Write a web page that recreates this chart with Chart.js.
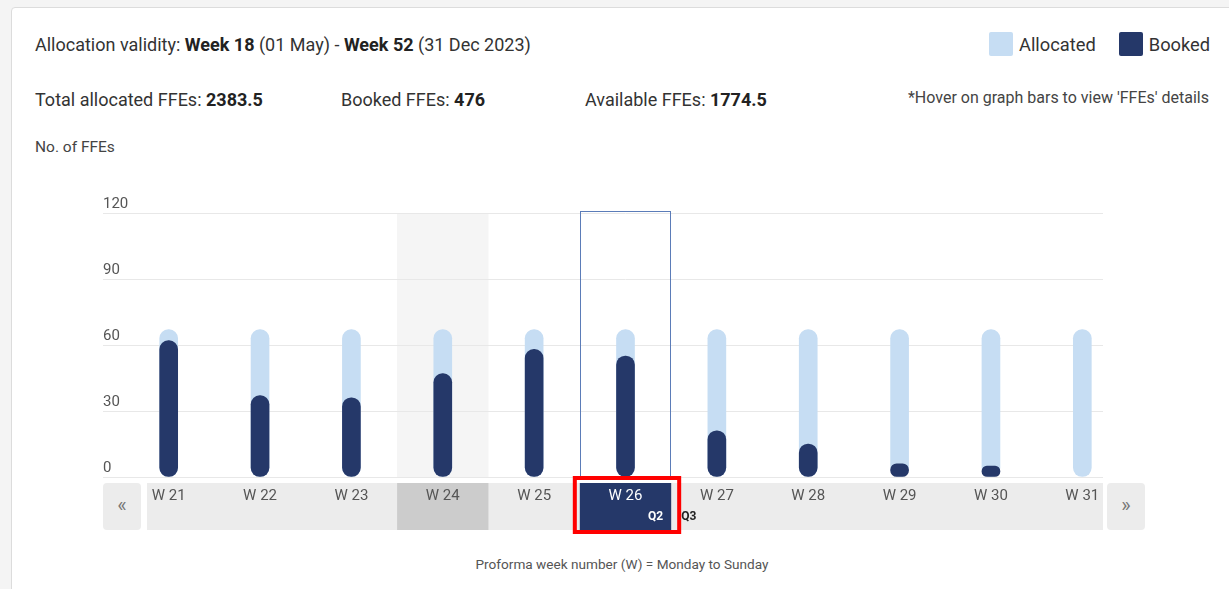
<!DOCTYPE html>
<html>
<head>
<meta charset="utf-8">
<script src="https://cdn.jsdelivr.net/npm/chart.js@4.4.0/dist/chart.umd.min.js"></script>
<style>
  html, body { margin: 0; padding: 0; }
  body { width: 1229px; height: 589px; background: #f4f4f4; font-family: Roboto, "Noto Sans", sans-serif; color: #333; position: relative; overflow: hidden; }
  .card { position: absolute; left: 11px; top: 7px; width: 1240px; height: 600px; background: #fff; border: 1px solid #dcdcdc; border-radius: 4px; }
  .txt { position: absolute; white-space: nowrap; }
  .big { font-size: 18px; }
  .small { font-size: 15.5px; color: #444; }
  b { font-weight: 700; color: #222; }
  .legend { position: absolute; top: 32px; left: 989px; font-size: 18.3px; display: flex; align-items: center; }
  .sw { width: 24px; height: 24px; border-radius: 2px; display: inline-block; margin-right: 6px; }
  .btn { position: absolute; top: 483px; width: 38px; height: 47px; background: #ececec; border-radius: 4px; color: #777; font-size: 20px; line-height: 45px; text-align: center; z-index: 2; }
  .clip { position: absolute; left: 103px; top: 190px; width: 1000px; height: 350px; overflow: hidden; }
  .inner { position: relative; width: 1025px; height: 350px; }
</style>
</head>
<body>
<div class="card"></div>

<div class="txt big" style="left:35px; top:34px;">Allocation validity: <b>Week 18</b> (01 May) - <b>Week 52</b> (31 Dec 2023)</div>
<div class="legend">
  <span class="sw" style="background:#c6ddf3"></span><span style="margin-right:23px">Allocated</span>
  <span class="sw" style="background:#253869"></span><span>Booked</span>
</div>

<div class="txt big" style="left:35px; top:89px;">Total allocated FFEs: <b>2383.5</b></div>
<div class="txt big" style="left:341px; top:89px;">Booked FFEs: <b>476</b></div>
<div class="txt big" style="left:585px; top:89px;">Available FFEs: <b>1774.5</b></div>
<div class="txt small" style="right:20px; top:88px; font-size:16px;">*Hover on graph bars to view 'FFEs' details</div>
<div class="txt small" style="left:35px; top:138px;">No. of FFEs</div>

<div class="btn" style="left:103px;">&laquo;</div>
<div class="btn" style="left:1107px;">&raquo;</div>

<div class="clip"><div class="inner"><canvas id="weekChart"></canvas></div></div>

<div class="txt" style="left:0; width:1244px; text-align:center; top:556px; font-size:13.6px; color:#555;">Proforma week number (W) = Monday to Sunday</div>

<script>
var weeks = ["W 21", "W 22", "W 23", "W 24", "W 25", "W 26", "W 27", "W 28", "W 29", "W 30", "W 31"];
var allocated = [67, 67, 67, 67, 67, 67, 67, 67, 67, 67, 67];
var booked = [62, 37, 36, 47, 58, 55, 21, 15, 6, 5, 0];
var yTicks = [0, 30, 60, 90, 120];
var hoverWeek = "W 24";
var currentWeek = "W 26";
var quarterEnd = "Q2";
var quarterNext = "Q3";

var navy = '#253869';

// strip under the bars, the grey hover column and the selected week box
var stripPlugin = {
  id: 'strip',
  beforeDraw: function (chart) {
    var c = chart.ctx, x = chart.scales.x, area = chart.chartArea;
    var w = x.width / weeks.length;
    var top = area.bottom + 6, h = 47;
    c.save();
    c.fillStyle = '#ececec';
    c.fillRect(area.left + 24, top, area.right - area.left - 24, h);
    var hi = weeks.indexOf(hoverWeek);
    var hx = x.getPixelForValue(hi) - w / 2;
    c.fillStyle = '#f5f5f5';
    c.fillRect(hx, area.top, w, area.bottom - area.top);
    c.fillStyle = '#cccccc';
    c.fillRect(hx, top, w, h);
    var ci = weeks.indexOf(currentWeek);
    var cx = x.getPixelForValue(ci) - w / 2;
    c.fillStyle = navy;
    c.fillRect(cx, top, w, h);
    c.restore();
  },
  afterDraw: function (chart) {
    var c = chart.ctx, x = chart.scales.x, area = chart.chartArea;
    var w = x.width / weeks.length;
    var ci = weeks.indexOf(currentWeek);
    var cx = x.getPixelForValue(ci) - w / 2;
    c.save();
    c.strokeStyle = '#5b7cb8';
    c.lineWidth = 1;
    c.strokeRect(Math.round(cx) + 0.5, area.top - 1.5, Math.round(w) - 1, area.bottom - area.top + 1.5);
    c.font = 'bold 12px Roboto, sans-serif';
    c.textBaseline = 'middle';
    c.fillStyle = '#ffffff';
    c.textAlign = 'right';
    c.fillText(quarterEnd, cx + w - 8, area.bottom + 40);
    c.fillStyle = '#222';
    c.textAlign = 'left';
    c.fillText(quarterNext, cx + w + 10, area.bottom + 40);
    c.strokeStyle = '#ff0000';
    c.lineWidth = 4;
    c.strokeRect(cx - 5, area.bottom + 1, w + 13, 54);
    c.restore();
  }
};

var ctx = document.getElementById('weekChart');
var chart = new Chart(ctx, {
  type: 'bar',
  data: {
    labels: weeks,
    datasets: [
      {
        label: 'Booked',
        data: booked,
        // a week with nothing booked shows no dark pill at all
        backgroundColor: function (c) { return c.raw > 0 ? navy : 'rgba(0,0,0,0)'; },
        barThickness: 18,
        borderRadius: 9,
        borderSkipped: false,
        grouped: false,
        order: 0
      },
      {
        label: 'Allocated',
        data: allocated,
        backgroundColor: '#c6ddf3',
        barThickness: 18,
        borderRadius: 9,
        borderSkipped: false,
        grouped: false,
        order: 1
      }
    ]
  },
  options: {
    responsive: true,
    maintainAspectRatio: false,
    animation: false,
    layout: { padding: { top: 23, left: 0, right: 0, bottom: 0 } },
    plugins: {
      legend: { display: false },
      tooltip: { enabled: false }
    },
    scales: {
      x: {
        offset: true,
        grid: { display: false, drawTicks: false },
        border: { display: false },
        ticks: {
          padding: 10,
          color: function (c) { return weeks[c.index] === currentWeek ? '#ffffff' : '#555'; },
          font: { size: 15, family: 'Roboto' }
        },
        afterFit: function (s) { s.height = 63; }
      },
      y: {
        min: 0,
        max: 120,
        afterFit: function (s) { s.width = 20; },
        afterBuildTicks: function (s) { s.ticks = yTicks.map(function (v) { return { value: v }; }); },
        grid: { color: '#e8e8e8', drawTicks: true, tickLength: 20, tickColor: '#e8e8e8' },
        border: { display: false },
        ticks: {
          mirror: true,
          padding: -20,
          labelOffset: -9,
          color: '#555',
          font: { size: 15, family: 'Roboto' }
        }
      }
    }
  },
  plugins: [stripPlugin]
});
</script>
</body>
</html>
